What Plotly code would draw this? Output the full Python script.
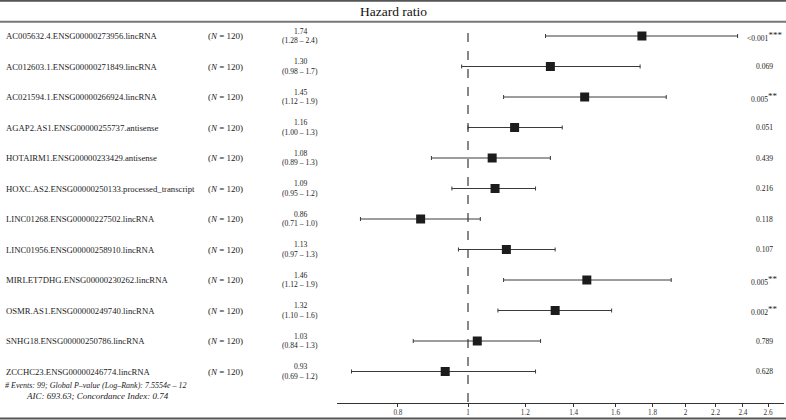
import plotly.graph_objects as go

genes = [
    "AC005632.4.ENSG00000273956.lincRNA",
    "AC012603.1.ENSG00000271849.lincRNA",
    "AC021594.1.ENSG00000266924.lincRNA",
    "AGAP2.AS1.ENSG00000255737.antisense",
    "HOTAIRM1.ENSG00000233429.antisense",
    "HOXC.AS2.ENSG00000250133.processed_transcript",
    "LINC01268.ENSG00000227502.lincRNA",
    "LINC01956.ENSG00000258910.lincRNA",
    "MIRLET7DHG.ENSG00000230262.lincRNA",
    "OSMR.AS1.ENSG00000249740.lincRNA",
    "SNHG18.ENSG00000250786.lincRNA",
    "ZCCHC23.ENSG00000246774.lincRNA",
]
n_obs = [120] * 12
hr = [1.74, 1.30, 1.45, 1.16, 1.08, 1.09, 0.86, 1.13, 1.46, 1.32, 1.03, 0.93]
ci_low = [1.28, 0.98, 1.12, 1.00, 0.89, 0.95, 0.71, 0.97, 1.12, 1.10, 0.84, 0.69]
ci_high = [2.36, 1.73, 1.88, 1.35, 1.30, 1.24, 1.04, 1.32, 1.91, 1.58, 1.26, 1.24]
ci_low_lbl = ["1.28", "0.98", "1.12", "1.00", "0.89", "0.95", "0.71", "0.97", "1.12", "1.10", "0.84", "0.69"]
ci_high_lbl = ["2.4", "1.7", "1.9", "1.3", "1.3", "1.2", "1.0", "1.3", "1.9", "1.6", "1.3", "1.2"]
p_lbl = ["<0.001", "0.069", "0.005", "0.051", "0.439", "0.216", "0.118", "0.107", "0.005", "0.002", "0.789", "0.628"]
p_stars = ["***", "", "**", "", "", "", "", "", "**", "**", "", ""]
x_ticks = [0.8, 1, 1.2, 1.4, 1.6, 1.8, 2, 2.2, 2.4, 2.6]
title_text = "Hazard ratio"
foot_line1 = "# Events: 99; Global P\u2013value (Log\u2013Rank): 7.5554e \u2013 12"
foot_line2 = "AIC: 693.63; Concordance Index: 0.74"

W, H = 786, 420
FONT = "Liberation Serif"
TXT = "#222222"
rows = list(range(len(genes)))

fig = go.Figure()
fig.add_trace(go.Scatter(
    x=hr, y=rows, mode="markers",
    marker=dict(symbol="square", size=9, color="#1c1c1c"),
    error_x=dict(type="data", symmetric=False,
                 array=[h - m for h, m in zip(ci_high, hr)],
                 arrayminus=[m - l for m, l in zip(hr, ci_low)],
                 color="#3a3a3a", thickness=1, width=2),
    showlegend=False, hoverinfo="skip",
))

anns = []
for i, g in enumerate(genes):
    anns.append(dict(x=4 / W, y=i, xref="paper", yref="y", text=g, showarrow=False,
                     xanchor="left", yanchor="middle", font=dict(family=FONT, size=8.7, color=TXT)))
    anns.append(dict(x=206 / W, y=i, xref="paper", yref="y", text=f"(<i>N</i> = {n_obs[i]})", showarrow=False,
                     xanchor="left", yanchor="middle", font=dict(family=FONT, size=9.0, color=TXT)))
    anns.append(dict(x=300 / W, y=i, xref="paper", yref="y", yshift=4.6,
                     text=f"{hr[i]:.2f}", showarrow=False,
                     xanchor="center", yanchor="middle", font=dict(family=FONT, size=7.6, color=TXT)))
    anns.append(dict(x=300 / W, y=i, xref="paper", yref="y", yshift=-4.6,
                     text=f"({ci_low_lbl[i]} \u2013 {ci_high_lbl[i]})", showarrow=False,
                     xanchor="center", yanchor="middle", font=dict(family=FONT, size=7.6, color=TXT)))
    ptxt = p_lbl[i] + (f"<sup><span style='font-size:9px'>{p_stars[i]}</span></sup>" if p_stars[i] else "")
    anns.append(dict(x=764 / W, y=i, xref="paper", yref="y", text=ptxt, showarrow=False,
                     xanchor="center", yanchor="middle", font=dict(family=FONT, size=7.6, color=TXT)))

anns.append(dict(x=393 / W, y=1 - 11.5 / H, xref="paper", yref="paper", text=title_text, showarrow=False,
                 xanchor="center", yanchor="middle", font=dict(family=FONT, size=13.5, color="#111")))
anns.append(dict(x=3 / W, y=1 - 385.5 / H, xref="paper", yref="paper",
                 text=f"<i>{foot_line1}</i>", showarrow=False,
                 xanchor="left", yanchor="middle", font=dict(family=FONT, size=8.0, color=TXT)))
anns.append(dict(x=97 / W, y=1 - 395.5 / H, xref="paper", yref="paper",
                 text=f"<i>{foot_line2}</i>", showarrow=False,
                 xanchor="center", yanchor="middle", font=dict(family=FONT, size=9.0, color=TXT)))

shapes = [
    dict(type="line", xref="paper", yref="paper", x0=0, x1=1, y0=1 - 0.8 / H, y1=1 - 0.8 / H,
         line=dict(color="#555", width=2)),
    dict(type="line", xref="paper", yref="paper", x0=0, x1=1, y0=1 - 21.8 / H, y1=1 - 21.8 / H,
         line=dict(color="#777", width=2)),
    dict(type="line", xref="paper", yref="paper", x0=0, x1=1, y0=1 - 418.5 / H, y1=1 - 418.5 / H,
         line=dict(color="#555", width=2)),
    dict(type="line", xref="x", yref="paper", x0=1, x1=1, y0=1 - 402 / H, y1=1 - 27 / H,
         line=dict(color="#111", width=1, dash="dash"), layer="below"),
]

px_per_log10 = 723.0
x0_px, x1_px, ref_px = 337.0, 784.0, 468.0
xr = [-(ref_px - x0_px) / px_per_log10, (x1_px - ref_px) / px_per_log10]
y_top_px, y_bot_px, row0_px, row_step = 24.0, 402.5, 36.0, 30.5

fig.update_layout(
    width=W, height=H, autosize=False,
    margin=dict(l=0, r=0, t=0, b=0),
    paper_bgcolor="white", plot_bgcolor="white",
    xaxis=dict(type="log", range=xr, domain=[x0_px / W, x1_px / W],
               tickvals=x_ticks, ticktext=[f"{v:g}" for v in x_ticks],
               showgrid=False, zeroline=False, showline=True, linecolor="#333", linewidth=1,
               ticks="outside", ticklen=3, tickcolor="#333", tickwidth=1,
               tickfont=dict(family=FONT, size=7.2, color="#333")),
    yaxis=dict(range=[(y_bot_px - row0_px) / row_step, (y_top_px - row0_px) / row_step],
               domain=[1 - y_bot_px / H, 1 - y_top_px / H],
               showgrid=False, zeroline=False, showline=False, showticklabels=False, ticks=""),
    annotations=anns, shapes=shapes,
)

fig.write_html("out.html", config={"displayModeBar": False, "staticPlot": True},
               post_script="document.body.style.margin='0';document.body.style.overflow='hidden';")
